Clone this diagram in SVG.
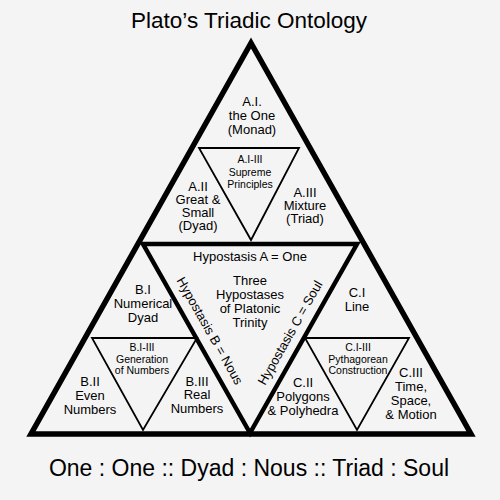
<svg xmlns="http://www.w3.org/2000/svg" width="500" height="500" viewBox="0 0 500 500">
<style>
  .bg { fill: #f4f4f4; }
  .thick { fill: none; stroke: #000; stroke-width: 5.5; stroke-linejoin: miter; }
  .mid { fill: none; stroke: #000; stroke-width: 4.5; stroke-linejoin: miter; }
  .thin { fill: none; stroke: #000; stroke-width: 1.8; stroke-linejoin: miter; }
  text { font-family: "Liberation Sans", Arial, sans-serif; fill: #000; text-anchor: middle; }
  .lbl { font-size: 13px; }
  .sm { font-size: 10.5px; }
  .title { font-size: 22.5px; }
  .foot { font-size: 23px; }
</style>
<rect class="bg" x="0" y="0" width="500" height="500"/>

<g id="frame">
  <polygon class="thick" points="251,43 31,434 471,434"/>
  <polygon class="mid" points="143,244 357,244 250,433"/>
  <polygon class="thin" points="199,148 299,148 251,240"/>
  <polygon class="thin" points="92,338 197,338 143,430"/>
  <polygon class="thin" points="305,338 409,338 357,430"/>
</g>

<g id="title">
  <text class="title" x="249" y="28">Plato’s Triadic Ontology</text>
</g>

<g id="A-I">
  <text class="lbl" x="252"><tspan x="252" y="106">A.I.</tspan><tspan x="252" y="120">the One</tspan><tspan x="252" y="134">(Monad)</tspan></text>
</g>
<g id="A-I-III">
  <text class="sm" x="250"><tspan x="250" y="163">A.I-III</tspan><tspan x="250" y="176">Supreme</tspan><tspan x="250" y="188">Principles</tspan></text>
</g>
<g id="A-II">
  <text class="lbl" x="198"><tspan x="198" y="191">A.II</tspan><tspan x="198" y="204">Great &amp;</tspan><tspan x="198" y="217">Small</tspan><tspan x="198" y="230">(Dyad)</tspan></text>
</g>
<g id="A-III">
  <text class="lbl" x="305"><tspan x="305" y="197">A.III</tspan><tspan x="305" y="210">Mixture</tspan><tspan x="305" y="223">(Triad)</tspan></text>
</g>

<g id="center">
  <text class="lbl" x="250" y="261">Hypostasis A = One</text>
  <text class="lbl" x="250"><tspan x="250" y="285">Three</tspan><tspan x="250" y="299">Hypostases</tspan><tspan x="250" y="313">of Platonic</tspan><tspan x="250" y="327">Trinity</tspan></text>
  <text class="lbl" transform="translate(206,333) rotate(60.5)" x="0" y="0">Hypostasis B = Nous</text>
  <text class="lbl" transform="translate(294,335) rotate(-60.5)" x="0" y="0">Hypostasis C = Soul</text>
</g>

<g id="B-I">
  <text class="lbl" x="143"><tspan x="143" y="294">B.I</tspan><tspan x="143" y="308">Numerical</tspan><tspan x="143" y="322">Dyad</tspan></text>
</g>
<g id="B-I-III">
  <text class="sm" x="142"><tspan x="142" y="351">B.I-III</tspan><tspan x="142" y="363">Generation</tspan><tspan x="142" y="374">of Numbers</tspan></text>
</g>
<g id="B-II">
  <text class="lbl" x="90"><tspan x="90" y="386">B.II</tspan><tspan x="90" y="400">Even</tspan><tspan x="90" y="414">Numbers</tspan></text>
</g>
<g id="B-III">
  <text class="lbl" x="197"><tspan x="197" y="386">B.III</tspan><tspan x="197" y="399">Real</tspan><tspan x="197" y="413">Numbers</tspan></text>
</g>

<g id="C-I">
  <text class="lbl" x="357"><tspan x="357" y="297">C.I</tspan><tspan x="357" y="311">Line</tspan></text>
</g>
<g id="C-I-III">
  <text class="sm" x="358"><tspan x="358" y="351">C.I-III</tspan><tspan x="358" y="363">Pythagorean</tspan><tspan x="358" y="374">Construction</tspan></text>
</g>
<g id="C-II">
  <text class="lbl" x="303"><tspan x="303" y="387">C.II</tspan><tspan x="303" y="401">Polygons</tspan><tspan x="303" y="415">&amp; Polyhedra</tspan></text>
</g>
<g id="C-III">
  <text class="lbl" x="411"><tspan x="411" y="377">C.III</tspan><tspan x="411" y="391">Time,</tspan><tspan x="411" y="405">Space,</tspan><tspan x="411" y="419">&amp; Motion</tspan></text>
</g>

<g id="footer">
  <text class="foot" x="249" y="476">One : One :: Dyad : Nous :: Triad : Soul</text>
</g>
</svg>
